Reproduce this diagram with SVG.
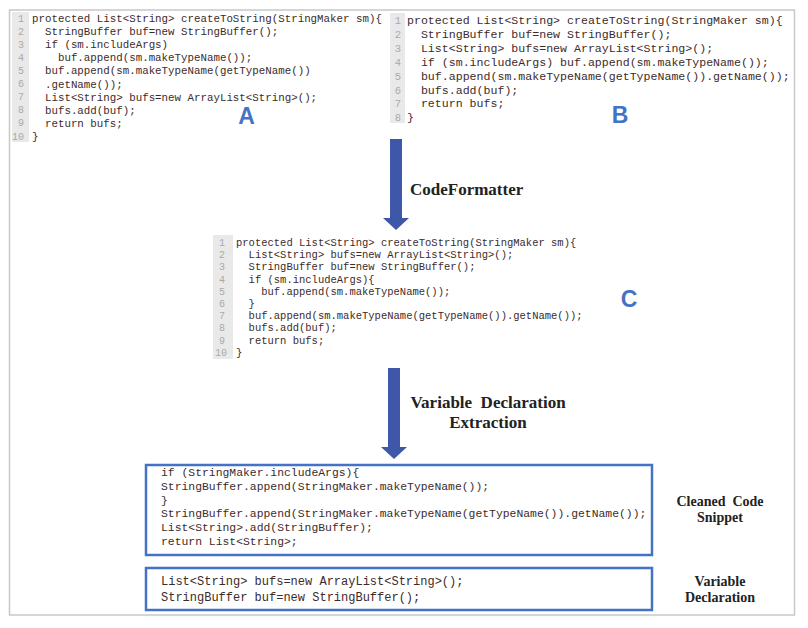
<svg xmlns="http://www.w3.org/2000/svg" width="808" height="628" viewBox="0 0 808 628" xml:space="preserve">
<style>
text{white-space:pre;}
.code{font-family:"Liberation Mono","Courier New",monospace;fill:#3d2b2b;white-space:pre;}
.ln{font-family:"Liberation Mono",monospace;fill:#aaaaaa;text-anchor:end;}
.gut{fill:#e9e9e9;}
.big{font-family:"Liberation Sans",Arial,sans-serif;font-weight:bold;font-size:23px;fill:#4472C4;text-anchor:middle;}
.lbl{font-family:"Liberation Serif","Times New Roman",serif;font-weight:bold;fill:#222;white-space:pre;}
.box{fill:#fff;stroke:#4472C4;stroke-width:2.5;}
.arr{fill:#3F57A8;}
</style>
<rect x="0" y="0" width="808" height="628" fill="#fff"/>
<rect x="9.5" y="10" width="785" height="605" fill="none" stroke="#c8c8c8" stroke-width="1.5"/>

<g id="codeA">
<rect class="gut" x="12" y="12" width="17" height="130"/>
<g class="ln" font-size="10">
<text x="24" y="22">1</text><text x="24" y="35">2</text><text x="24" y="48">3</text><text x="24" y="61">4</text><text x="24" y="74">5</text><text x="24" y="87">6</text><text x="24" y="100">7</text><text x="24" y="113">8</text><text x="24" y="126">9</text><text x="24" y="140">10</text>
</g>
<g class="code" font-size="10.8">
<text x="32" y="22">protected List&lt;String&gt; createToString(StringMaker sm){</text>
<text x="32" y="35.1">  StringBuffer buf=new StringBuffer();</text>
<text x="32" y="48.2">  if (sm.includeArgs)</text>
<text x="32" y="61.3">    buf.append(sm.makeTypeName());</text>
<text x="32" y="74.4">  buf.append(sm.makeTypeName(getTypeName())</text>
<text x="32" y="87.5">  .getName());</text>
<text x="32" y="100.6">  List&lt;String&gt; bufs=new ArrayList&lt;String&gt;();</text>
<text x="32" y="113.7">  bufs.add(buf);</text>
<text x="32" y="126.8">  return bufs;</text>
<text x="32" y="139.9">}</text>
</g>
<text class="big" x="246.5" y="124">A</text>
</g>

<g id="codeB">
<rect class="gut" x="390" y="13" width="15" height="110"/>
<g class="ln" font-size="10.5">
<text x="401" y="24">1</text><text x="401" y="37.9">2</text><text x="401" y="51.8">3</text><text x="401" y="65.7">4</text><text x="401" y="79.6">5</text><text x="401" y="93.5">6</text><text x="401" y="107.4">7</text><text x="401" y="121.3">8</text>
</g>
<g class="code" font-size="11.6">
<text x="407" y="24">protected List&lt;String&gt; createToString(StringMaker sm){</text>
<text x="407" y="37.9">  StringBuffer buf=new StringBuffer();</text>
<text x="407" y="51.8">  List&lt;String&gt; bufs=new ArrayList&lt;String&gt;();</text>
<text x="407" y="65.7">  if (sm.includeArgs) buf.append(sm.makeTypeName());</text>
<text x="407" y="79.6">  buf.append(sm.makeTypeName(getTypeName()).getName());</text>
<text x="407" y="93.5">  bufs.add(buf);</text>
<text x="407" y="107.4">  return bufs;</text>
<text x="407" y="121.3">}</text>
</g>
<text class="big" x="620" y="123">B</text>
</g>

<g id="codeC">
<rect class="gut" x="213" y="235" width="20" height="124"/>
<g class="ln" font-size="10">
<text x="225" y="246">1</text><text x="225" y="258.2">2</text><text x="225" y="270.4">3</text><text x="225" y="282.6">4</text><text x="225" y="294.8">5</text><text x="225" y="307">6</text><text x="225" y="319.2">7</text><text x="225" y="331.4">8</text><text x="225" y="343.6">9</text><text x="227" y="355.8">10</text>
</g>
<g class="code" font-size="10.5">
<text x="236" y="246">protected List&lt;String&gt; createToString(StringMaker sm){</text>
<text x="236" y="258.2">  List&lt;String&gt; bufs=new ArrayList&lt;String&gt;();</text>
<text x="236" y="270.4">  StringBuffer buf=new StringBuffer();</text>
<text x="236" y="282.6">  if (sm.includeArgs){</text>
<text x="236" y="294.8">    buf.append(sm.makeTypeName());</text>
<text x="236" y="307">  }</text>
<text x="236" y="319.2">  buf.append(sm.makeTypeName(getTypeName()).getName());</text>
<text x="236" y="331.4">  bufs.add(buf);</text>
<text x="236" y="343.6">  return bufs;</text>
<text x="236" y="355.8">}</text>
</g>
<text class="big" x="629" y="307">C</text>
</g>

<g id="cleaned">
<rect class="box" x="146" y="465" width="506" height="90"/>
<g class="code" font-size="11.4">
<text x="161" y="476">if (StringMaker.includeArgs){</text>
<text x="161" y="489.8">StringBuffer.append(StringMaker.makeTypeName());</text>
<text x="161" y="503.6">}</text>
<text x="161" y="517.4">StringBuffer.append(StringMaker.makeTypeName(getTypeName()).getName());</text>
<text x="161" y="531.2">List&lt;String&gt;.add(StringBuffer);</text>
<text x="161" y="545">return List&lt;String&gt;;</text>
</g>
<text class="lbl" font-size="14" x="720" y="506" text-anchor="middle">Cleaned  Code</text>
<text class="lbl" font-size="14" x="720" y="522" text-anchor="middle">Snippet</text>
</g>

<g id="vardecl">
<rect class="box" x="146" y="568" width="506" height="42"/>
<g class="code" font-size="12">
<text x="161" y="585">List&lt;String&gt; bufs=new ArrayList&lt;String&gt;();</text>
<text x="161" y="601">StringBuffer buf=new StringBuffer();</text>
</g>
<text class="lbl" font-size="14" x="720" y="586" text-anchor="middle">Variable</text>
<text class="lbl" font-size="14" x="720" y="602" text-anchor="middle">Declaration</text>
</g>

<g id="connectors">
<rect class="arr" x="390" y="139" width="12" height="80"/>
<polygon class="arr" points="383,218 409,218 396,230"/>
<text class="lbl" font-size="17" x="410" y="195">CodeFormatter</text>
<rect class="arr" x="388" y="368" width="12" height="80"/>
<polygon class="arr" points="381,447 407,447 394,459"/>
<text class="lbl" font-size="17" x="488" y="408" text-anchor="middle">Variable  Declaration</text>
<text class="lbl" font-size="17" x="488" y="428" text-anchor="middle">Extraction</text>
</g>
</svg>
